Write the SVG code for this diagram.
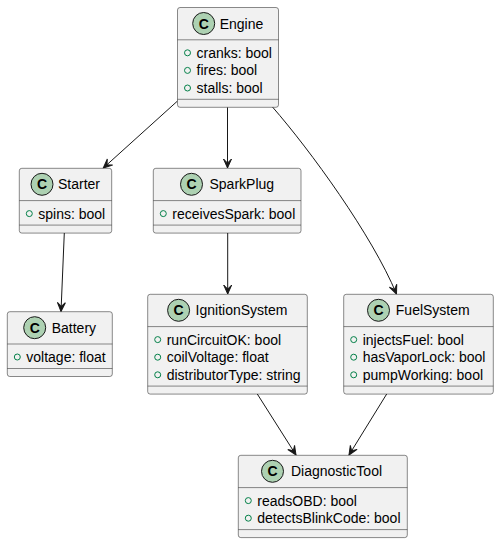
<svg xmlns="http://www.w3.org/2000/svg" width="499" height="544" viewBox="0 0 499 544">
<style>
.box{fill:#F1F1F1;stroke:#181818;stroke-width:0.5}
.sep{stroke:#181818;stroke-width:0.5}
.cc{fill:#ADD1B2;stroke:#181818;stroke-width:1}
.cl{font-family:"Liberation Sans",Arial,sans-serif;font-size:14px;font-weight:bold;fill:#000;text-anchor:middle}
.nm{font-family:"Liberation Sans",Arial,sans-serif;font-size:14px;fill:#000}
.at{font-family:"Liberation Sans",Arial,sans-serif;font-size:14px;fill:#000}
.ac{fill:none;stroke:#038048;stroke-width:1}
.ln{fill:none;stroke:#181818;stroke-width:1}
</style>
<defs>
<marker id="arr" markerUnits="userSpaceOnUse" markerWidth="12" markerHeight="10" refX="10" refY="5" orient="auto" overflow="visible">
<path d="M10,5 L1,1 L5,5 L1,9 Z" fill="#181818" stroke="#181818" stroke-width="1"/>
</marker>
</defs>
<g id="connectors">
<path class="ln" d="M177.5,101 L103.3,168" marker-end="url(#arr)"/>
<path class="ln" d="M227.5,107.3 L227.5,168" marker-end="url(#arr)"/>
<path class="ln" d="M272.5,107 C310,150 372,235 396.5,294" marker-end="url(#arr)"/>
<path class="ln" d="M64.3,233 L61,311.5" marker-end="url(#arr)"/>
<path class="ln" d="M227.7,233 L227.7,294" marker-end="url(#arr)"/>
<path class="ln" d="M257.3,394 L296,455" marker-end="url(#arr)"/>
<path class="ln" d="M386.7,394 L349,455" marker-end="url(#arr)"/>
</g>
<g id="Engine">
<rect class="box" x="177.5" y="7.5" width="101" height="99.8" rx="2.5"/>
<circle class="cc" cx="203.7" cy="23.5" r="11"/>
<text class="cl" x="203.7" y="28.5">C</text>
<text class="nm" x="219.7" y="28.5">Engine</text>
<line class="sep" x1="177.5" y1="39.8" x2="278.5" y2="39.8"/>
<circle class="ac" cx="187.5" cy="52.8" r="3"/>
<text class="at" x="196.5" y="57.8">cranks: bool</text>
<circle class="ac" cx="187.5" cy="70.4" r="3"/>
<text class="at" x="196.5" y="75.4">fires: bool</text>
<circle class="ac" cx="187.5" cy="88" r="3"/>
<text class="at" x="196.5" y="93">stalls: bool</text>
<line class="sep" x1="177.5" y1="99.3" x2="278.5" y2="99.3"/>
</g>
<g id="Starter">
<rect class="box" x="19.3" y="168.3" width="92.4" height="64.8" rx="2.5"/>
<circle class="cc" cx="42" cy="184.3" r="11"/>
<text class="cl" x="42" y="189.3">C</text>
<text class="nm" x="58" y="189.3">Starter</text>
<line class="sep" x1="19.3" y1="200.6" x2="111.7" y2="200.6"/>
<circle class="ac" cx="29.3" cy="213.6" r="3"/>
<text class="at" x="38.3" y="218.6">spins: bool</text>
<line class="sep" x1="19.3" y1="225.1" x2="111.7" y2="225.1"/>
</g>
<g id="SparkPlug">
<rect class="box" x="153.3" y="168.3" width="147.7" height="64.8" rx="2.5"/>
<circle class="cc" cx="191.5" cy="184.3" r="11"/>
<text class="cl" x="191.5" y="189.3">C</text>
<text class="nm" x="209.5" y="189.3">SparkPlug</text>
<line class="sep" x1="153.3" y1="200.6" x2="301" y2="200.6"/>
<circle class="ac" cx="163.3" cy="213.6" r="3"/>
<text class="at" x="172.3" y="218.6">receivesSpark: bool</text>
<line class="sep" x1="153.3" y1="225.1" x2="301" y2="225.1"/>
</g>
<g id="Battery">
<rect class="box" x="7.3" y="311.7" width="105" height="64.8" rx="2.5"/>
<circle class="cc" cx="34.7" cy="327.7" r="11"/>
<text class="cl" x="34.7" y="332.7">C</text>
<text class="nm" x="51.7" y="332.7">Battery</text>
<line class="sep" x1="7.3" y1="344" x2="112.3" y2="344"/>
<circle class="ac" cx="17.3" cy="357" r="3"/>
<text class="at" x="26.3" y="362">voltage: float</text>
<line class="sep" x1="7.3" y1="368.5" x2="112.3" y2="368.5"/>
</g>
<g id="IgnitionSystem">
<rect class="box" x="147.7" y="294.3" width="159.6" height="99.8" rx="2.5"/>
<circle class="cc" cx="178.6" cy="310.3" r="11"/>
<text class="cl" x="178.6" y="315.3">C</text>
<text class="nm" x="195.6" y="315.3">IgnitionSystem</text>
<line class="sep" x1="147.7" y1="326.6" x2="307.3" y2="326.6"/>
<circle class="ac" cx="157.7" cy="339.6" r="3"/>
<text class="at" x="166.7" y="344.6">runCircuitOK: bool</text>
<circle class="ac" cx="157.7" cy="357.2" r="3"/>
<text class="at" x="166.7" y="362.2">coilVoltage: float</text>
<circle class="ac" cx="157.7" cy="374.8" r="3"/>
<text class="at" x="166.7" y="379.8">distributorType: string</text>
<line class="sep" x1="147.7" y1="386.1" x2="307.3" y2="386.1"/>
</g>
<g id="FuelSystem">
<rect class="box" x="343.7" y="294.3" width="149.6" height="99.8" rx="2.5"/>
<circle class="cc" cx="378.5" cy="310.3" r="11"/>
<text class="cl" x="378.5" y="315.3">C</text>
<text class="nm" x="395.8" y="315.3">FuelSystem</text>
<line class="sep" x1="343.7" y1="326.6" x2="493.3" y2="326.6"/>
<circle class="ac" cx="353.7" cy="339.6" r="3"/>
<text class="at" x="362.7" y="344.6">injectsFuel: bool</text>
<circle class="ac" cx="353.7" cy="357.2" r="3"/>
<text class="at" x="362.7" y="362.2">hasVaporLock: bool</text>
<circle class="ac" cx="353.7" cy="374.8" r="3"/>
<text class="at" x="362.7" y="379.8">pumpWorking: bool</text>
<line class="sep" x1="343.7" y1="386.1" x2="493.3" y2="386.1"/>
</g>
<g id="DiagnosticTool">
<rect class="box" x="238.3" y="455.3" width="169" height="82.3" rx="2.5"/>
<circle class="cc" cx="272.5" cy="471.3" r="11"/>
<text class="cl" x="272.5" y="476.3">C</text>
<text class="nm" x="291" y="476.3">DiagnosticTool</text>
<line class="sep" x1="238.3" y1="487.6" x2="407.3" y2="487.6"/>
<circle class="ac" cx="248.3" cy="500.6" r="3"/>
<text class="at" x="257.3" y="505.6">readsOBD: bool</text>
<circle class="ac" cx="248.3" cy="518.2" r="3"/>
<text class="at" x="257.3" y="523.2">detectsBlinkCode: bool</text>
<line class="sep" x1="238.3" y1="529.6" x2="407.3" y2="529.6"/>
</g>
</svg>
